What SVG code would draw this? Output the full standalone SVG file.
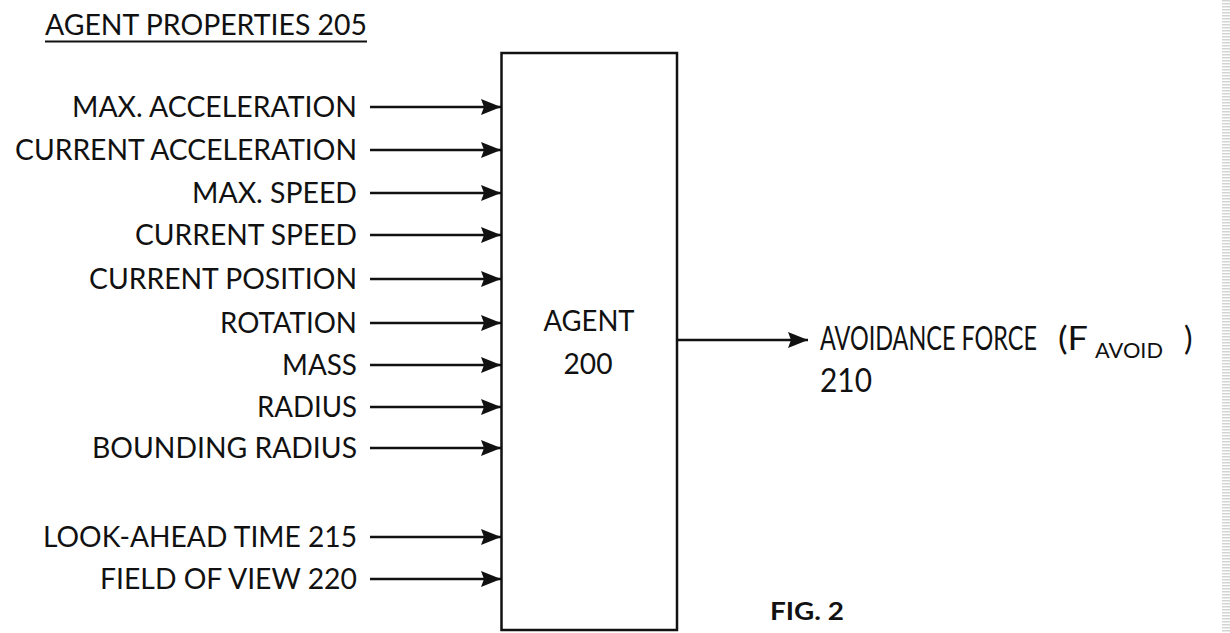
<svg xmlns="http://www.w3.org/2000/svg" width="1230" height="633" viewBox="0 0 1230 633">
<style>
text{font-family:Lato,"Open Sans","Liberation Sans",sans-serif;font-size:29px;fill:#111}
.in{text-anchor:end}
.c{text-anchor:middle}
.o{font-size:32px}
.s{font-size:22px}
.b{font-weight:bold;font-size:25px}
.ln{stroke:#111;stroke-width:2.5;fill:none}
</style>
<defs>
<marker id="ah" markerWidth="22" markerHeight="18" refX="20" refY="8" orient="auto" markerUnits="userSpaceOnUse">
<path d="M0,0 L20,8 L0,16 L3,8 Z" fill="#111"/>
</marker>
<pattern id="stripe" width="8" height="3" patternUnits="userSpaceOnUse">
<rect width="8" height="1.5" fill="#d4d4d4"/>
</pattern>
</defs>
<rect width="1230" height="633" fill="#fff"/>
<rect x="1222" y="0" width="8" height="633" fill="url(#stripe)"/>
<g id="title">
<text x="45" y="35" textLength="322" lengthAdjust="spacingAndGlyphs">AGENT PROPERTIES 205</text>
<line x1="45" y1="41.5" x2="367" y2="41.5" stroke="#111" stroke-width="1.8"/>
</g>
<g id="agent">
<rect x="501.5" y="53" width="175.5" height="577" class="ln" stroke-width="2"/>
<text class="c" x="589" y="331" textLength="91" lengthAdjust="spacingAndGlyphs">AGENT</text>
<text class="c" x="588" y="374" textLength="49" lengthAdjust="spacingAndGlyphs">200</text>
</g>
<g id="inputs">
<text class="in" x="357" y="117" textLength="285" lengthAdjust="spacingAndGlyphs">MAX. ACCELERATION</text>
<text class="in" x="357" y="160" textLength="342" lengthAdjust="spacingAndGlyphs">CURRENT ACCELERATION</text>
<text class="in" x="357" y="203" textLength="165" lengthAdjust="spacingAndGlyphs">MAX. SPEED</text>
<text class="in" x="357" y="245" textLength="222" lengthAdjust="spacingAndGlyphs">CURRENT SPEED</text>
<text class="in" x="357" y="289" textLength="268" lengthAdjust="spacingAndGlyphs">CURRENT POSITION</text>
<text class="in" x="357" y="333" textLength="137" lengthAdjust="spacingAndGlyphs">ROTATION</text>
<text class="in" x="357" y="375" textLength="75" lengthAdjust="spacingAndGlyphs">MASS</text>
<text class="in" x="357" y="417" textLength="100" lengthAdjust="spacingAndGlyphs">RADIUS</text>
<text class="in" x="357" y="458" textLength="265" lengthAdjust="spacingAndGlyphs">BOUNDING RADIUS</text>
<text class="in" x="357" y="547" textLength="314" lengthAdjust="spacingAndGlyphs">LOOK-AHEAD TIME 215</text>
<text class="in" x="357" y="589" textLength="257" lengthAdjust="spacingAndGlyphs">FIELD OF VIEW 220</text>
</g>
<g id="output">
<text class="o" y="350"><tspan x="820" textLength="217" lengthAdjust="spacingAndGlyphs">AVOIDANCE FORCE</tspan><tspan x="1058" textLength="30" lengthAdjust="spacingAndGlyphs">(F</tspan><tspan class="s" x="1095" y="358" textLength="68" lengthAdjust="spacingAndGlyphs">AVOID</tspan><tspan x="1184" y="350">)</tspan></text>
<text class="o" x="820" y="392" textLength="52" lengthAdjust="spacingAndGlyphs">210</text>
</g>
<g id="fig">
<text class="b" x="770" y="620" textLength="74" lengthAdjust="spacingAndGlyphs">FIG. 2</text>
</g>
<g id="connectors">
<line class="ln" x1="370" y1="107" x2="501" y2="107" marker-end="url(#ah)"/>
<line class="ln" x1="370" y1="150" x2="501" y2="150" marker-end="url(#ah)"/>
<line class="ln" x1="370" y1="193" x2="501" y2="193" marker-end="url(#ah)"/>
<line class="ln" x1="370" y1="235" x2="501" y2="235" marker-end="url(#ah)"/>
<line class="ln" x1="370" y1="279" x2="501" y2="279" marker-end="url(#ah)"/>
<line class="ln" x1="370" y1="323" x2="501" y2="323" marker-end="url(#ah)"/>
<line class="ln" x1="370" y1="365" x2="501" y2="365" marker-end="url(#ah)"/>
<line class="ln" x1="370" y1="407" x2="501" y2="407" marker-end="url(#ah)"/>
<line class="ln" x1="370" y1="448" x2="501" y2="448" marker-end="url(#ah)"/>
<line class="ln" x1="370" y1="537" x2="501" y2="537" marker-end="url(#ah)"/>
<line class="ln" x1="370" y1="579" x2="501" y2="579" marker-end="url(#ah)"/>
<line class="ln" x1="677" y1="340" x2="808" y2="340" marker-end="url(#ah)"/>
</g>
</svg>
